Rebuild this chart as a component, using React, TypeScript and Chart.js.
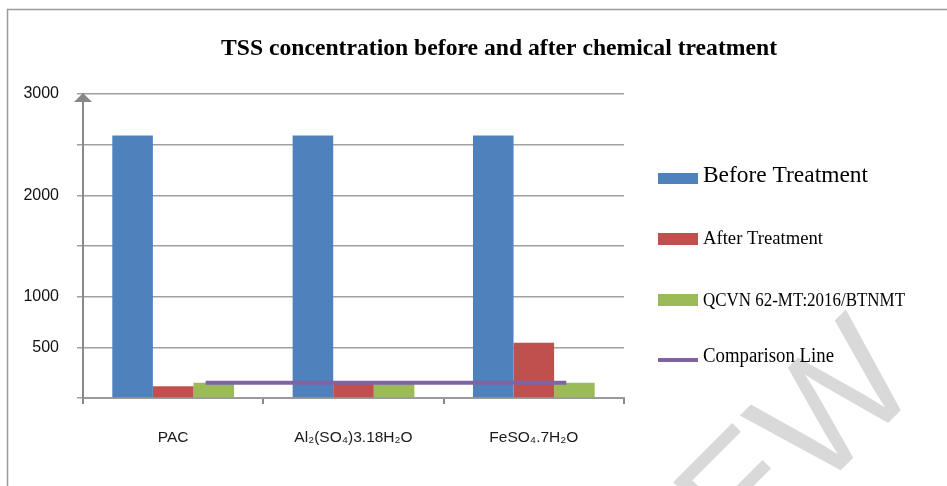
import React, { useEffect, useRef } from "react";
import { Chart, registerables } from "chart.js";

Chart.register(...registerables);

// ---- data ----
const categories = ["PAC", "Al₂(SO₄)3.18H₂O", "FeSO₄.7H₂O"];
const beforeTreatment = [2590, 2590, 2590];
const afterTreatment = [115, 140, 545];
const qcvnLimit = [150, 150, 150];
const comparisonX = [0.68, 2.68];
const comparisonY = [150, 150];
const yLabelledTicks = [500, 1000, 2000, 3000];
const seriesNames = [
  "Before Treatment",
  "After Treatment",
  "QCVN 62-MT:2016/BTNMT",
  "Comparison Line",
];
const titleText = "TSS concentration before and after chemical treatment";
const watermarkText = "PREVIEW";
const yMin = 0;
const yMax = 3000;
const yStep = 500;

const BLUE = "#4F81BD";
const RED = "#C0504D";
const GREEN = "#9BBB59";
const PURPLE = "#8064A2";
const seriesColors = [BLUE, RED, GREEN, PURPLE];

// shared plot-area geometry (both canvases use the same chart area)
const AREA = { left: 83, top: 94, right: 624, bottom: 398 };
const W = 947;
const H = 486;

function drawFitted(
  ctx: CanvasRenderingContext2D,
  text: string,
  x: number,
  y: number,
  font: string,
  targetWidth: number,
  align: CanvasTextAlign
) {
  ctx.save();
  ctx.font = font;
  ctx.textAlign = align;
  ctx.textBaseline = "alphabetic";
  const w = ctx.measureText(text).width;
  const s = w > 0 ? targetWidth / w : 1;
  ctx.translate(x, y);
  ctx.scale(s, 1);
  ctx.fillText(text, 0, 0);
  ctx.restore();
}

const decorPlugin = {
  id: "decor",
  beforeDraw(chart: any) {
    const ctx: CanvasRenderingContext2D = chart.ctx;
    ctx.save();
    ctx.fillStyle = "#ffffff";
    ctx.fillRect(0, 0, chart.width, chart.height);
    ctx.strokeStyle = "#9a9a9a";
    ctx.lineWidth = 1.5;
    ctx.beginPath();
    ctx.moveTo(7.5, chart.height);
    ctx.lineTo(7.5, 9.5);
    ctx.lineTo(chart.width, 9.5);
    ctx.stroke();
    ctx.restore();
  },
  afterDraw(chart: any) {
    const ctx: CanvasRenderingContext2D = chart.ctx;
    const ca = chart.chartArea;
    ctx.save();

    // axis arrow
    ctx.fillStyle = "#888888";
    ctx.beginPath();
    ctx.moveTo(ca.left, ca.top - 1);
    ctx.lineTo(ca.left - 9, ca.top + 8);
    ctx.lineTo(ca.left + 9, ca.top + 8);
    ctx.closePath();
    ctx.fill();

    // watermark
    ctx.save();
    ctx.fillStyle = "#d9d9d9";
    ctx.font = "160px 'Liberation Sans', Arial, sans-serif";
    ctx.textAlign = "right";
    ctx.textBaseline = "alphabetic";
    ctx.translate(924, 387);
    ctx.rotate((-45 * Math.PI) / 180);
    ctx.fillText(watermarkText, 0, 0);
    ctx.restore();

    // title
    ctx.fillStyle = "#000000";
    drawFitted(ctx, titleText, 499, 55, "bold 23px 'Liberation Serif', 'Times New Roman', serif", 556, "center");

    // legend
    const boxX = 658;
    const boxW = 40;
    const textX = 703;
    const items = [
      { box: [173, 11], base: 182, size: 23, width: 165 },
      { box: [233, 12], base: 244, size: 19, width: 120 },
      { box: [294, 12], base: 306, size: 19, width: 202 },
      { line: 360, base: 362, size: 20, width: 131 },
    ];
    items.forEach((it: any, i: number) => {
      if (it.box) {
        ctx.fillStyle = seriesColors[i];
        ctx.fillRect(boxX, it.box[0], boxW, it.box[1]);
      } else {
        ctx.strokeStyle = seriesColors[i];
        ctx.lineWidth = 4;
        ctx.beginPath();
        ctx.moveTo(boxX, it.line);
        ctx.lineTo(boxX + boxW, it.line);
        ctx.stroke();
      }
      ctx.fillStyle = "#000000";
      drawFitted(ctx, seriesNames[i], textX, it.base, `${it.size}px 'Liberation Serif', 'Times New Roman', serif`, it.width, "left");
    });

    ctx.restore();
  },
};

export default function App() {
  const barRef = useRef<HTMLCanvasElement | null>(null);
  const lineRef = useRef<HTMLCanvasElement | null>(null);

  useEffect(() => {
    const barCanvas = barRef.current;
    const lineCanvas = lineRef.current;
    if (!barCanvas || !lineCanvas) return;

    const barChart = new Chart(barCanvas, {
      type: "bar",
      data: {
        labels: categories,
        datasets: [
          { label: seriesNames[0], data: beforeTreatment, backgroundColor: BLUE, borderWidth: 0 },
          { label: seriesNames[1], data: afterTreatment, backgroundColor: RED, borderWidth: 0 },
          { label: seriesNames[2], data: qcvnLimit, backgroundColor: GREEN, borderWidth: 0 },
        ],
      },
      options: {
        animation: false,
        responsive: false,
        devicePixelRatio: 1,
        layout: { padding: { top: AREA.top, left: 0, right: W - AREA.right, bottom: 0 } },
        datasets: {
          bar: { categoryPercentage: 0.675, barPercentage: 1 },
        },
        plugins: {
          legend: { display: false },
          title: { display: false },
          tooltip: { enabled: false },
        },
        scales: {
          x: {
            type: "category",
            offset: true,
            grid: {
              offset: true,
              drawOnChartArea: false,
              drawTicks: true,
              tickLength: 6,
              color: "#888888",
              lineWidth: 2,
            },
            border: { display: true, color: "#9a9a9a", width: 2 },
            ticks: {
              padding: 24,
              color: "#1a1a1a",
              font: { family: "'Liberation Sans', Arial, sans-serif", size: 15.5 },
              maxRotation: 0,
              autoSkip: false,
            },
            afterFit: (scale: any) => {
              scale.height = H - AREA.bottom;
            },
          },
          y: {
            type: "linear",
            min: yMin,
            max: yMax,
            grid: {
              color: "#a0a0a0",
              lineWidth: 1.5,
              drawTicks: true,
              tickLength: 6,
            },
            border: { display: true, color: "#888888", width: 2 },
            ticks: {
              stepSize: yStep,
              padding: 18,
              color: "#111111",
              font: { family: "'Liberation Sans', Arial, sans-serif", size: 16 },
              callback: (v: any) => (yLabelledTicks.includes(Number(v)) ? String(v) : ""),
            },
            afterFit: (scale: any) => {
              scale.width = AREA.left;
            },
          },
        },
      },
      plugins: [decorPlugin],
    });

    // overlay chart for the comparison line (same plot area, hidden axes)
    const lineChart = new Chart(lineCanvas, {
      type: "line",
      data: {
        datasets: [
          {
            label: seriesNames[3],
            data: comparisonX.map((x, i) => ({ x, y: comparisonY[i] })),
            borderColor: PURPLE,
            backgroundColor: PURPLE,
            borderWidth: 4,
            pointRadius: 0,
            fill: false,
          },
        ],
      },
      options: {
        animation: false,
        responsive: false,
        devicePixelRatio: 1,
        layout: {
          padding: { left: AREA.left, top: AREA.top, right: W - AREA.right, bottom: H - AREA.bottom },
        },
        plugins: {
          legend: { display: false },
          title: { display: false },
          tooltip: { enabled: false },
        },
        scales: {
          x: { type: "linear", display: false, min: 0, max: categories.length },
          y: { type: "linear", display: false, min: yMin, max: yMax },
        },
      },
    });

    return () => {
      lineChart.destroy();
      barChart.destroy();
    };
  }, []);

  return (
    <div style={{ position: "absolute", left: 0, top: 0, width: W, height: H }}>
      <canvas ref={barRef} width={W} height={H} style={{ display: "block", position: "absolute", left: 0, top: 0 }} />
      <canvas ref={lineRef} width={W} height={H} style={{ display: "block", position: "absolute", left: 0, top: 0 }} />
    </div>
  );
}
